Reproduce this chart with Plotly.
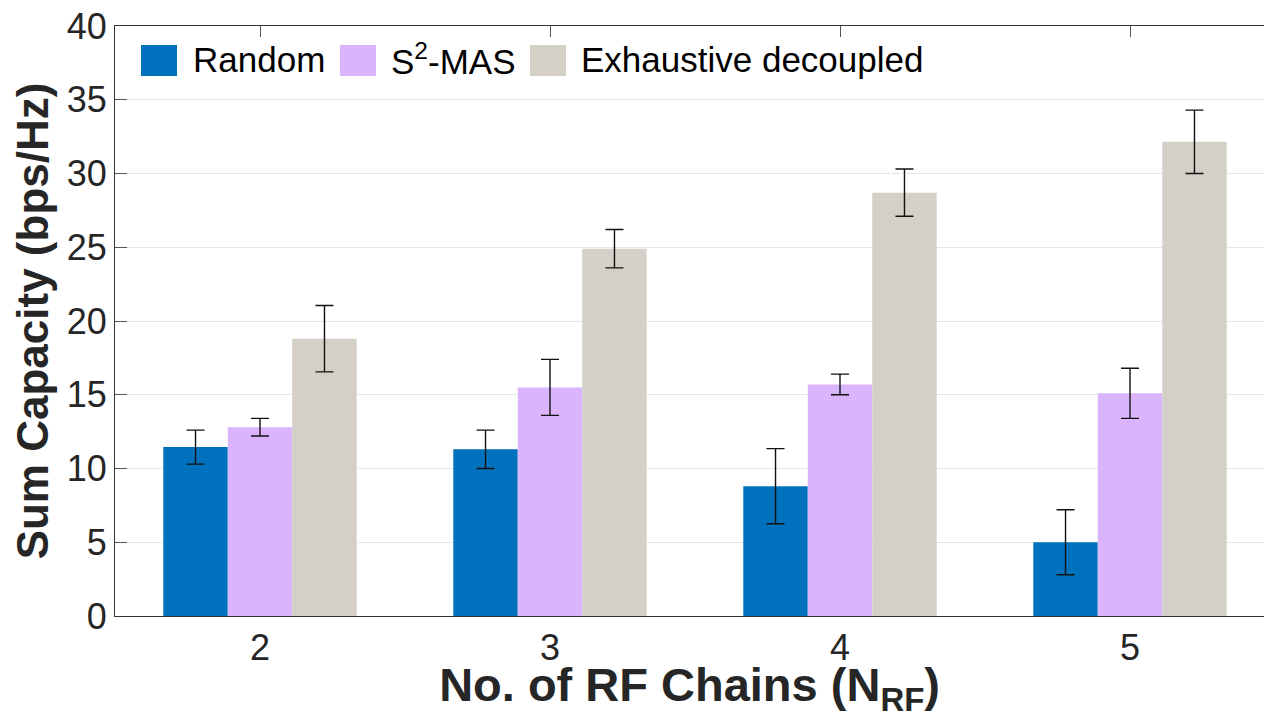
import plotly.graph_objects as go

# Number of RF chains (group positions on the x axis)
n_rf = [2, 3, 4, 5]
tick_labels = ["2", "3", "4", "5"]

# Mean sum capacity (bps/Hz) and error-bar half-widths per scheme
random_mean = [11.45, 11.3, 8.8, 5.0]
random_err = [1.15, 1.3, 2.55, 2.2]

s2mas_mean = [12.8, 15.5, 15.7, 15.1]
s2mas_err = [0.6, 1.9, 0.7, 1.7]

exhaustive_mean = [18.8, 24.9, 28.7, 32.15]
exhaustive_err = [2.25, 1.3, 1.6, 2.15]

series_names = ["Random", "S<sup>2</sup>-MAS", "Exhaustive decoupled"]
series_colors = ["#0072BD", "#DAB4FD", "#D4D0C8"]

y_ticks = [0, 5, 10, 15, 20, 25, 30, 35, 40]

W, H = 1264, 718
M_L, M_R, M_T, M_B = 115, 0, 26, 102
plot_w = W - M_L - M_R
plot_h = H - M_T - M_B
group_px = 290.0  # pixel spacing of one unit on the x axis

FONT = "Liberation Sans, Arial, Helvetica, sans-serif"
TXT = "#262626"

fig = go.Figure()

for name, color, mean, err in zip(
    series_names,
    series_colors,
    [random_mean, s2mas_mean, exhaustive_mean],
    [random_err, s2mas_err, exhaustive_err],
):
    fig.add_trace(
        go.Bar(
            x=n_rf,
            y=mean,
            name=name,
            marker=dict(color=color, line=dict(width=0)),
            error_y=dict(
                type="data",
                array=err,
                visible=True,
                color="#111111",
                thickness=1.4,
                width=9,
            ),
            showlegend=False,
        )
    )


def px_x(px):
    return (px - M_L) / plot_w


def px_y(py):
    return (H - M_B - py) / plot_h


# Legend drawn inside the axes: coloured swatch + label for each series
legend_swatch_left = [141, 340, 530]
legend_text_left = [191, 389, 579]
sw_w, sw_top, sw_bot = 36, 45, 76
shapes = []
annotations = []
for name, color, sx, tx in zip(series_names, series_colors, legend_swatch_left, legend_text_left):
    shapes.append(
        dict(
            type="rect",
            xref="paper",
            yref="paper",
            x0=px_x(sx),
            x1=px_x(sx + sw_w),
            y0=px_y(sw_bot),
            y1=px_y(sw_top),
            fillcolor=color,
            line=dict(width=0),
            layer="above",
        )
    )
    annotations.append(
        dict(
            text=name,
            xref="paper",
            yref="paper",
            x=px_x(tx),
            y=px_y(59),
            xanchor="left",
            yanchor="middle",
            showarrow=False,
            font=dict(family=FONT, size=35, color="#000000"),
        )
    )

fig.update_layout(
    width=W,
    height=H,
    margin=dict(l=M_L, r=M_R, t=M_T, b=M_B, pad=0),
    paper_bgcolor="white",
    plot_bgcolor="white",
    barmode="group",
    bargap=0.333,
    bargroupgap=0,
    shapes=shapes,
    annotations=annotations,
    font=dict(family=FONT, color=TXT),
    xaxis=dict(
        range=[1.5, 1.5 + plot_w / group_px],
        tickmode="array",
        tickvals=n_rf,
        ticktext=tick_labels,
        ticks="inside",
        ticklen=11,
        tickwidth=1,
        tickcolor="#555555",
        tickfont=dict(family=FONT, size=36, color=TXT),
        showline=True,
        linecolor="#333333",
        linewidth=1.2,
        mirror="ticks",
        showgrid=False,
        zeroline=False,
        layer="below traces",
        title=dict(
            text="<b>No. of RF Chains (N<sub>RF</sub>)</b>",
            font=dict(family=FONT, size=47, color=TXT),
            standoff=1,
        ),
    ),
    yaxis=dict(
        range=[0, 40],
        tickmode="array",
        tickvals=y_ticks,
        ticks="inside",
        ticklen=12,
        tickwidth=1,
        tickcolor="#555555",
        tickfont=dict(family=FONT, size=36, color=TXT),
        showline=True,
        linecolor="#333333",
        linewidth=1.2,
        mirror=False,
        showgrid=True,
        gridcolor="#E6E6E6",
        gridwidth=1,
        zeroline=False,
        title=dict(
            text="<b>Sum Capacity (bps/Hz)</b>",
            font=dict(family=FONT, size=44, color=TXT),
            standoff=4,
        ),
    ),
)

fig.write_html("out.html")
